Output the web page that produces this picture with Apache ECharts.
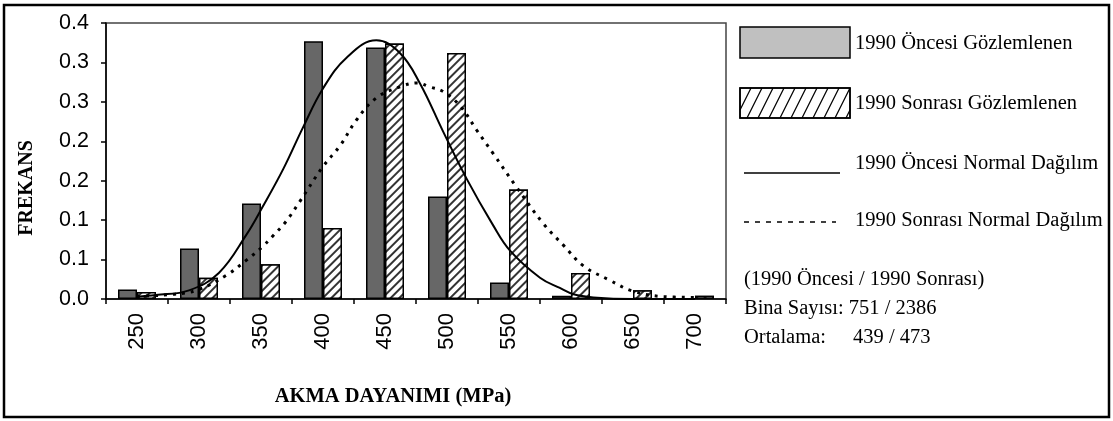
<!DOCTYPE html>
<html>
<head>
<meta charset="utf-8">
<script src="https://cdn.jsdelivr.net/npm/echarts@6/dist/echarts.min.js"></script>
<style>
html,body{margin:0;padding:0;background:#fff;}
#chart{width:1113px;height:421px;}
</style>
</head>
<body>
<div id="chart"></div>
<script>
// ---- data ----
var categories = ['250','300','350','400','450','500','550','600','650','700'];
var preObserved  = [0.012, 0.064, 0.121, 0.327, 0.319, 0.130, 0.021, 0.004, 0, 0];
var postObserved = [0.009, 0.027, 0.044, 0.090, 0.324, 0.312, 0.139, 0.033, 0.011, 0.004];
var yTickLabels = ['0.0','0.1','0.1','0.2','0.2','0.3','0.3','0.4'];

var preNormalX = [250, 265, 292, 316, 338, 351, 368, 384, 400, 419, 443, 462, 478, 497, 516, 537, 551, 575, 591, 602, 618, 650, 700];
var preNormalY = [0.003, 0.005, 0.011, 0.033, 0.081, 0.116, 0.165, 0.218, 0.267, 0.306, 0.328, 0.312, 0.274, 0.212, 0.152, 0.094, 0.061, 0.027, 0.014, 0.006, 0.002, 0.000, 0.000];

var postNormalX = [250, 260, 279, 298, 322, 338, 351, 359, 370, 381, 400, 414, 427, 443, 462, 476, 486, 497, 511, 524, 537, 556, 578, 594, 610, 631, 650, 675, 700];
var postNormalY = [0.003, 0.004, 0.006, 0.011, 0.030, 0.049, 0.066, 0.079, 0.098, 0.123, 0.168, 0.195, 0.227, 0.255, 0.269, 0.274, 0.269, 0.263, 0.244, 0.214, 0.185, 0.142, 0.095, 0.068, 0.042, 0.024, 0.010, 0.003, 0.002];

var legendNames = ['1990 Öncesi Gözlemlenen', '1990 Sonrası Gözlemlenen', '1990 Öncesi Normal Dağılım', '1990 Sonrası Normal Dağılım'];
var statsLines = ['(1990 Öncesi / 1990 Sonrası)', 'Bina Sayısı: 751 / 2386', 'Ortalama:'];
var statsMean = '439 / 473';
var xTitle = 'AKMA DAYANIMI (MPa)';
var yTitle = 'FREKANS';

// ---- build ----
function pairs(xs, ys){ return xs.map(function(x,i){ return [x, ys[i]]; }); }

var serif = 'Liberation Serif';
var sans = 'Liberation Sans';
var legendFont = '20.5px "' + serif + '"';

// hatch lines for the legend swatch
function hatch(x, y, w, h, step, dx){
  var out = [];
  for (var x0 = x - dx; x0 < x + w; x0 += step){
    var x1 = x0, y1 = y + h, x2 = x0 + dx, y2 = y;
    if (x1 < x){ var t = (x - x1)/(x2 - x1); y1 = y1 + (y2 - y1)*t; x1 = x; }
    if (x2 > x + w){ var t2 = (x + w - x1)/(x2 - x1); y2 = y1 + (y2 - y1)*t2; x2 = x + w; }
    if (x2 <= x1) continue;
    out.push({type:'line', z:20, shape:{x1:x1,y1:y1,x2:x2,y2:y2}, style:{stroke:'#000', lineWidth:1.2}, silent:true});
  }
  return out;
}

var graphics = [
  {type:'rect', shape:{x:4, y:5, width:1105, height:412}, style:{fill:'none', stroke:'#000', lineWidth:2.5}, silent:true, z:100},
  {type:'text', x:27, y:188, rotation:Math.PI/2, style:{text:yTitle, font:'bold 20px "'+serif+'"', fill:'#000', textAlign:'center', textVerticalAlign:'middle'}},
  {type:'text', x:393, y:397, style:{text:xTitle, font:'bold 20.5px "'+serif+'"', fill:'#000', textAlign:'center', textVerticalAlign:'middle'}},
  {type:'rect', z:10, shape:{x:740, y:27, width:110, height:31}, style:{fill:'#c0c0c0', stroke:'#000', lineWidth:1.5}},
  {type:'rect', z:10, shape:{x:740, y:88, width:110, height:30}, style:{fill:'#fff', stroke:'#000', lineWidth:1.5}}
].concat(hatch(740, 88, 110, 30, 11, 15)).concat([
  {type:'rect', z:30, shape:{x:740, y:88, width:110, height:30}, style:{fill:'none', stroke:'#000', lineWidth:1.5}},
  {type:'line', z:10, shape:{x1:744, y1:173, x2:840, y2:173}, style:{stroke:'#000', lineWidth:1.5}},
  {type:'line', z:10, shape:{x1:744, y1:222, x2:836, y2:222}, style:{stroke:'#000', lineWidth:1.5, lineDash:[5,6]}},
  {type:'text', x:855, y:44, style:{text:legendNames[0], font:legendFont, fill:'#000', textVerticalAlign:'middle'}},
  {type:'text', x:855, y:104, style:{text:legendNames[1], font:legendFont, fill:'#000', textVerticalAlign:'middle'}},
  {type:'text', x:855, y:164, style:{text:legendNames[2], font:legendFont, fill:'#000', textVerticalAlign:'middle'}},
  {type:'text', x:855, y:221, style:{text:legendNames[3], font:legendFont, fill:'#000', textVerticalAlign:'middle'}},
  {type:'text', x:744, y:280, style:{text:statsLines[0], font:legendFont, fill:'#000', textVerticalAlign:'middle'}},
  {type:'text', x:744, y:309, style:{text:statsLines[1], font:legendFont, fill:'#000', textVerticalAlign:'middle'}},
  {type:'text', x:744, y:338, style:{text:statsLines[2], font:legendFont, fill:'#000', textVerticalAlign:'middle'}},
  {type:'text', x:853, y:338, style:{text:statsMean, font:legendFont, fill:'#000', textVerticalAlign:'middle'}}
]);

var chart = echarts.init(document.getElementById('chart'), null, {renderer:'canvas'});
chart.setOption({
  animation:false,
  backgroundColor:'#fff',
  grid:{left:106, top:23, right:387, bottom:122, show:true, borderColor:'#444', borderWidth:1.5, backgroundColor:'transparent', containLabel:false},
  xAxis:[
    {type:'category', data:categories, boundaryGap:true,
     axisLine:{lineStyle:{color:'#000', width:1.5}},
     axisTick:{show:true, alignWithLabel:false, length:5, lineStyle:{color:'#000', width:1.5}},
     axisLabel:{rotate:90, margin:14, fontFamily:sans, fontSize:22, color:'#000'},
     splitLine:{show:false}},
    {type:'value', min:225, max:725, show:false, splitLine:{show:false}}
  ],
  yAxis:{type:'value', min:0, max:0.35, interval:0.05,
    axisLine:{show:true, lineStyle:{color:'#000', width:1.5}},
    axisTick:{show:true, length:5, lineStyle:{color:'#000', width:1.5}},
    axisLabel:{margin:17, fontFamily:sans, fontSize:21.5, color:'#000',
      formatter:function(v){ return yTickLabels[Math.round(v/0.05)]; }},
    splitLine:{show:false}},
  series:[
    {name:legendNames[0], type:'bar', data:preObserved, barWidth:19, barGap:'0%',
     itemStyle:{color:'#676767', borderColor:'#000', borderWidth:1.5}},
    {name:legendNames[1], type:'bar', data:postObserved, barWidth:19, barGap:'0%',
     itemStyle:{color:'#fff', borderColor:'#000', borderWidth:1.5,
       decal:{symbol:'rect', symbolSize:1, dashArrayX:[1,0], dashArrayY:[1.2,3.2], rotation:-Math.PI/4, color:'#333', backgroundColor:'#fff'}}},
    {name:legendNames[2], type:'line', xAxisIndex:1, data:pairs(preNormalX, preNormalY), smooth:0.4, showSymbol:false, symbol:'none',
     lineStyle:{color:'#000', width:2}, z:5},
    {name:legendNames[3], type:'line', xAxisIndex:1, data:pairs(postNormalX, postNormalY), smooth:0.4, showSymbol:false, symbol:'none',
     lineStyle:{color:'#000', width:3, type:[3,6]}, z:5}
  ],
  graphic:graphics
});
</script>
</body>
</html>
